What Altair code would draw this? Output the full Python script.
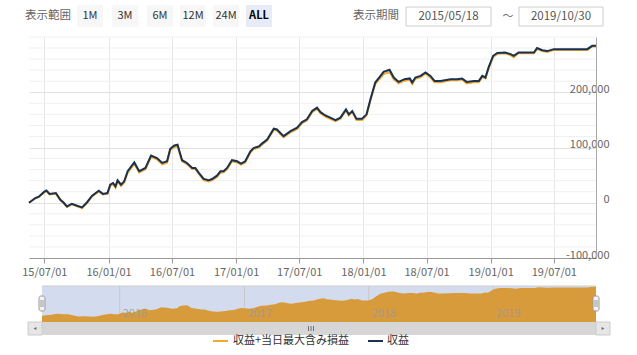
import altair as alt
import pandas as pd

FONT = "Noto Sans CJK JP"
START = "2015-05-18"
END = "2019-10-30"

# day offsets from START, profit (収益) in thousands of yen
day_offsets = [0, 18, 28, 44, 50, 59, 77, 90, 99, 109, 123, 138, 152, 166, 181, 200, 212, 225, 233, 241,
               248, 254, 264, 273, 283, 302, 316, 334, 350, 367, 382, 396, 405, 417, 426, 439, 453, 468, 477, 487,
               501, 515, 525, 539, 549, 558, 568, 582, 597, 608, 620, 635, 644, 659, 668, 683, 702, 711, 730, 750,
               769, 783, 797, 812, 826, 836, 850, 864, 879, 893, 909, 917, 927, 939, 955, 968, 979, 993, 1008, 1017,
               1034, 1046, 1060, 1077, 1092, 1099, 1108, 1123, 1137, 1151, 1163, 1180, 1209, 1228, 1242, 1255, 1276, 1290, 1300, 1309,
               1318, 1331, 1343, 1366, 1381, 1390, 1404, 1448, 1457, 1472, 1486, 1505, 1601, 1615, 1626]
profit_k = [0, 8.5, 11, 20, 22, 16, 17.6, 5.5, 0.5, -6.7, -1.8, -5.5, -8.5, 0.5, 12.7, 21.8, 16, 17.6, 32.7, 35.8,
            29.7, 40.6, 32.7, 38.8, 57, 73, 57, 63, 85.5, 81, 72, 75, 97.6, 103.6, 105, 77, 72, 63, 63, 54,
            43, 40.6, 43, 49, 57, 57, 63, 77, 75, 71, 75, 93, 99, 102, 107, 114.5, 134, 132.7, 120.5, 129.6,
            135.8, 146, 151, 166, 172, 164, 158, 154, 149.7, 154, 169, 160, 166, 152, 152, 160, 187, 217.6, 229.6, 237,
            240.6, 226.7, 218.7, 223.6, 225, 217.6, 226.7, 229.6, 235.8, 229.6, 220.5, 220.5, 223.6, 223.6, 225, 218.7, 220.5, 220.5, 229.6, 226.7,
            245, 266, 271, 272, 269, 266, 272, 272, 280, 276, 274.5, 278, 278, 284, 284]
# 収益+当日最大含み損益 in thousands of yen
total_k = [0, 8, 10, 19, 21, 15, 16.5, 4.5, -0.5, -7.5, -3, -6.5, -9.5, -0.5, 11.5, 20.5, 15, 16, 30.5, 33.5,
           27.5, 38.5, 30.5, 36.5, 54.5, 70.5, 55, 60.5, 83, 78.5, 69.5, 72.5, 95, 101, 102.5, 75, 70, 61, 61, 52,
           41, 38.5, 41, 46.5, 54.5, 55, 60.5, 75, 73, 69, 73, 91, 97, 100, 105, 112.5, 132, 130.5, 118.5, 127.5,
           133.5, 144, 149, 164, 170, 162, 156, 152, 147.5, 152, 167, 158, 164, 150, 150, 158, 185, 215, 226, 233,
           236.5, 223.5, 216, 221, 222.5, 215, 224.5, 227.5, 233.5, 227, 218, 218, 221.5, 221.5, 223, 216, 218, 218, 227.5, 225,
           243, 264, 269.5, 270.5, 267, 263.5, 270.5, 270.5, 278.5, 274.5, 273, 276.5, 276.5, 283, 283]

x_ticks = ["2015-07-01", "2016-01-01", "2016-07-01", "2017-01-01", "2017-07-01",
           "2018-01-01", "2018-07-01", "2019-01-01", "2019-07-01"]
y_major = [-100000, 0, 100000, 200000]
y_minor = [-80000, -60000, -40000, -20000, 20000, 40000, 60000, 80000, 120000, 140000,
           160000, 180000, 220000, 240000, 260000, 280000, 300000]
nav_years = ["2016-01-01", "2017-01-01", "2018-01-01", "2019-01-01"]
nav_year_labels = ["2016", "2017", "2018", "2019"]
range_buttons = ["1M", "3M", "6M", "12M", "24M", "ALL"]
series_names = ["収益+当日最大含み損益", "収益"]

ORANGE = "#f0a830"
NAVY = "#1b3150"

dates = pd.Timestamp(START) + pd.to_timedelta(day_offsets, unit="D")
df = pd.DataFrame({"date": dates,
                   "profit": [v * 1000 for v in profit_k],
                   "total": [v * 1000 for v in total_k]})


def dt(s):
    t = pd.Timestamp(s)
    return alt.DateTime(year=t.year, month=t.month, date=t.day)


W, H = 567, 221
x_dom = [dt(START), dt(END)]

xs_main = alt.Scale(domain=x_dom)
ys_main = alt.Scale(domain=[-100000, 300000], nice=False, zero=False)

x_axis = alt.Axis(values=[dt(s) for s in x_ticks], format="%y/%m/%d", labelFont=FONT, labelFontSize=11,
                  labelColor="#666", tickSize=5, tickColor="#999", domainColor="#999", gridColor="#e6e6e6",
                  labelPadding=3, title=None, labelFlush=False)
y_axis = alt.Axis(values=y_major, orient="right", labelAlign="right", labelPadding=13, labelBaseline="alphabetic",
                  labelExpr="datum.value < 0 ? '-' + format(-datum.value, ',') : format(datum.value, ',')",
                  labelFont=FONT, labelFontSize=11, labelColor="#666", ticks=False, domainColor="#aaa",
                  gridColor="#e0e0e0", title=None)

minor = alt.Chart(pd.DataFrame({"v": y_minor})).mark_rule(color="#f0f0f0", strokeWidth=1).encode(
    y=alt.Y("v:Q", scale=ys_main, axis=y_axis), x=alt.value(0), x2=alt.value(W))

line_total = alt.Chart(df).mark_line(color=ORANGE, strokeWidth=2).encode(
    x=alt.X("date:T", scale=xs_main, axis=x_axis), y=alt.Y("total:Q", scale=ys_main, axis=y_axis))
line_profit = alt.Chart(df).mark_line(color=NAVY, strokeWidth=2).encode(
    x=alt.X("date:T", scale=xs_main, axis=x_axis), y=alt.Y("profit:Q", scale=ys_main, axis=y_axis))

main = alt.layer(minor, line_total, line_profit)

# navigator
NX0, NX1, NY0, NY1 = 13, 567, 249, 285
xs_nav = alt.Scale(domain=x_dom, range=[NX0, NX1])
ys_nav = alt.Scale(domain=[-60000, 290000], range=[NY1, NY0], nice=False, zero=False)

one = pd.DataFrame({"a": [0]})


def rect(x, x2, y, y2, fill, stroke=None, sw=1, r=0):
    kw = dict(fill=fill, cornerRadius=r)
    if stroke:
        kw.update(stroke=stroke, strokeWidth=sw)
    return alt.Chart(one).mark_rect(**kw).encode(x=alt.value(x), x2=alt.value(x2), y=alt.value(y), y2=alt.value(y2))


def rule(x, x2, y, y2, color, sw=1):
    return alt.Chart(one).mark_rule(color=color, strokeWidth=sw).encode(
        x=alt.value(x), x2=alt.value(x2), y=alt.value(y), y2=alt.value(y2))


def txt(s, x, y, size=11, color="#666", align="left", weight="normal"):
    return alt.Chart(pd.DataFrame({"t": [s]})).mark_text(
        align=align, baseline="middle", fontSize=size, color=color, fontWeight=weight, font=FONT).encode(
        text="t:N", x=alt.value(x), y=alt.value(y))


nav_bg = rect(NX0, NX1, NY0, NY1, "#d3dcee")
nav_grid = alt.Chart(pd.DataFrame({"d": pd.to_datetime(nav_years)})).mark_rule(color="#c8c8c8").encode(
    x=alt.X("d:T", scale=xs_nav, axis=None), y=alt.value(NY0), y2=alt.value(NY1))
nav_area = alt.Chart(df).mark_area(color="#d89b3c", opacity=1).encode(
    x=alt.X("date:T", scale=xs_nav, axis=None),
    y=alt.Y("total:Q", scale=ys_nav, axis=None), y2=alt.datum(-60000))
nav_labels = alt.Chart(pd.DataFrame({"d": pd.to_datetime(nav_years), "t": nav_year_labels})).mark_text(
    align="left", baseline="middle", dx=3, fontSize=11, font=FONT, color="#999", opacity=0.8).encode(
    x=alt.X("d:T", scale=xs_nav, axis=None), y=alt.value(277), text="t:N")
nav = alt.layer(nav_bg, nav_grid, nav_area, nav_labels)

chrome = [
    rule(NX0, NX1, NY0, NY0, "#cccccc"),
    # scrollbar
    rect(-1, 581, 285, 298, "#d6d6d6"),
    rect(-1, 13, 285, 298, "#e6e6e6", "#cccccc"),
    rect(567, 581, 285, 298, "#e6e6e6", "#cccccc"),
    alt.Chart(one).mark_point(shape="triangle-left", filled=True, size=10, color="#333").encode(
        x=alt.value(6), y=alt.value(291.5)),
    alt.Chart(one).mark_point(shape="triangle-right", filled=True, size=10, color="#333").encode(
        x=alt.value(574), y=alt.value(291.5)),
    rule(279.5, 279.5, 289, 294, "#555", 0.8), rule(282, 282, 289, 294, "#555", 0.8),
    rule(284.5, 284.5, 289, 294, "#555", 0.8),
    # handles
    rect(10, 16, 259, 274, "#f2f2f2", "#999999", 1, 2),
    rule(12, 12, 263, 270, "#999"), rule(14, 14, 263, 270, "#999"),
    rect(564, 570, 259, 274, "#f2f2f2", "#999999", 1, 2),
    rule(566, 566, 263, 270, "#999"), rule(568, 568, 263, 270, "#999"),
    # legend
    rule(184, 199, 304, 304, ORANGE, 2), txt(series_names[0], 204, 304, 11, "#333"),
    rule(339, 354, 304, 304, NAVY, 2), txt(series_names[1], 358, 304, 11, "#333"),
    # top controls
    txt("表示範囲", -4, -21, 11.5, "#666"),
    txt("表示期間", 324, -21, 11.5, "#666"),
    rect(377, 462, -30, -11, "#ffffff", "#cccccc"),
    txt("2015/05/18", 419.5, -20.5, 11.5, "#555", "center"),
    txt("～", 479, -20.5, 11, "#666", "center"),
    rect(490, 574, -30, -11, "#ffffff", "#cccccc"),
    txt("2019/10/30", 532, -20.5, 11.5, "#555", "center"),
]
btn_centers = [61, 96, 131, 164, 197, 230]
for name, cx in zip(range_buttons, btn_centers):
    active = name == "ALL"
    chrome.append(rect(cx - 13, cx + 13, -32, -10, "#e6ebf5" if active else "#f7f7f7"))
    chrome.append(txt(name, cx, -21, 11, "#000" if active else "#333", "center", "bold" if active else "normal"))

chart = alt.layer(main, nav, *chrome).resolve_scale(x="independent", y="independent").properties(
    width=W, height=H, autosize="none",
    padding={"left": 29, "top": 37, "right": 41, "bottom": 97},
    background="white",
).configure_view(stroke=None)

chart.save("out.html", embed_options={"renderer": "svg", "actions": False})
